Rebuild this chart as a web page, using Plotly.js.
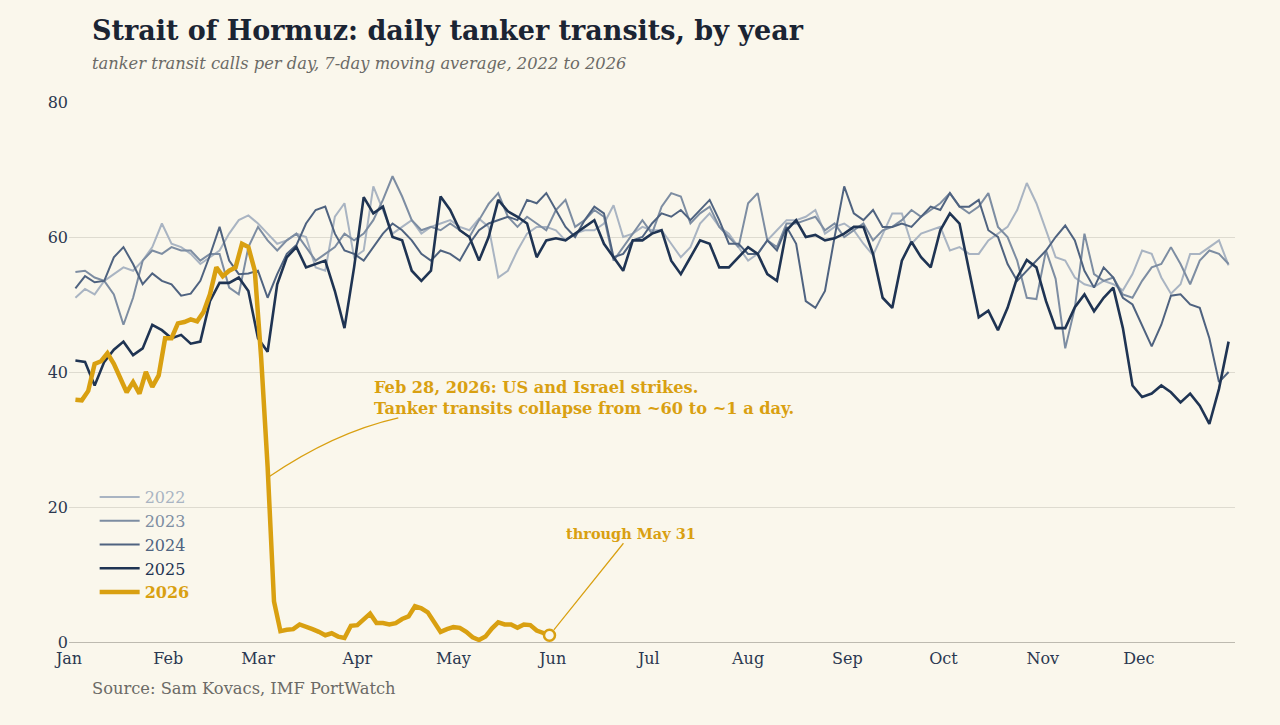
<!DOCTYPE html>
<html>
<head>
<meta charset="utf-8">
<script src="https://cdn.plot.ly/plotly-3.0.1.min.js"></script>
<style>
  html, body { margin: 0; padding: 0; background: #faf7ec; }
  #chart { width: 1280px; height: 725px; }
</style>
</head>
<body>
<div id="chart"></div>
<script>
// ---------- data ----------
const monthStarts = [0, 31, 59, 90, 120, 151, 181, 212, 243, 273, 304, 334];
const monthLabels = ['Jan', 'Feb', 'Mar', 'Apr', 'May', 'Jun', 'Jul', 'Aug', 'Sep', 'Oct', 'Nov', 'Dec'];

// full-year series, sampled every 3 days starting at day-of-year 2
const fullYearStartDay = 2;
const fullYearStepDays = 3;

const y2022 = [51.0, 52.3, 51.5, 53.5, 54.5, 55.5, 55.0, 56.5, 58.5, 62.0,
  59.0, 58.5, 57.5, 56.0, 57.0, 58.0, 60.5, 62.5, 63.2, 62.0,
  60.5, 59.0, 59.5, 60.5, 60.0, 55.5, 55.0, 63.0, 65.0, 57.0,
  58.0, 67.5, 64.0, 60.5, 61.5, 62.5, 60.5, 61.5, 62.0, 62.5,
  61.5, 61.0, 62.7, 61.5, 54.0, 55.0, 58.0, 60.5, 61.5, 61.5,
  61.0, 59.5, 60.5, 61.0, 61.0, 62.0, 64.7, 60.0, 60.5, 61.5,
  61.0, 61.0, 59.0, 57.0, 58.5, 62.0, 63.5, 61.5, 60.5, 58.5,
  56.5, 57.5, 59.5, 61.0, 62.5, 62.5, 63.0, 64.0, 60.5, 61.5,
  62.0, 61.0, 59.0, 57.3, 60.5, 63.5, 63.5, 59.0, 60.5, 61.0,
  61.5, 58.0, 58.5, 57.5, 57.5, 59.5, 60.5, 61.5, 64.0, 68.0,
  65.0, 61.0, 57.0, 56.5, 54.0, 53.0, 52.6, 53.5, 53.0, 52.1,
  54.5, 58.0, 57.5, 54.0, 51.6, 53.0, 57.5, 57.5, 58.5, 59.5,
  55.8];

const y2023 = [54.8, 55.0, 54.0, 53.5, 51.5, 47.0, 51.0, 56.5, 58.0, 57.5,
  58.5, 58.0, 58.0, 56.5, 57.5, 57.5, 52.5, 51.5, 58.5, 61.5,
  59.5, 58.0, 59.5, 60.5, 58.5, 56.5, 57.5, 58.5, 60.5, 59.5,
  60.5, 62.5, 65.5, 69.0, 66.0, 62.5, 61.0, 61.5, 61.0, 62.0,
  61.0, 60.0, 62.5, 64.9, 66.5, 63.0, 61.5, 63.0, 62.0, 61.0,
  64.0, 65.5, 61.5, 62.5, 64.0, 63.0, 56.5, 58.5, 60.5, 62.5,
  60.5, 64.5, 66.5, 66.0, 62.0, 63.5, 64.5, 61.5, 60.0, 58.5,
  65.0, 66.5, 59.5, 58.5, 62.0, 62.0, 62.5, 63.0, 61.0, 62.0,
  60.0, 61.0, 62.0, 59.5, 61.0, 61.5, 62.5, 64.0, 63.0, 64.0,
  65.0, 66.5, 64.5, 63.5, 64.5, 66.5, 61.5, 60.0, 56.5, 51.0,
  50.8, 58.0, 53.8, 43.5, 49.5, 60.5, 54.5, 53.5, 54.0, 51.5,
  51.0, 53.5, 55.5, 56.0, 58.5, 56.0, 53.0, 56.5, 58.0, 57.5,
  56.0];

const y2024 = [52.4, 54.2, 53.3, 53.5, 57.0, 58.5, 56.0, 53.0, 54.6, 53.5,
  53.0, 51.3, 51.6, 53.5, 57.3, 61.5, 56.5, 54.5, 54.6, 55.0,
  51.0, 54.5, 57.5, 58.8, 62.0, 64.0, 64.5, 60.5, 58.0, 57.5,
  56.5, 58.5, 60.5, 62.0, 61.0, 59.5, 57.5, 56.5, 58.0, 57.5,
  56.5, 59.0, 61.0, 62.0, 62.5, 63.0, 62.5, 65.5, 65.0, 66.5,
  64.0, 61.5, 60.0, 62.5, 64.5, 63.5, 57.0, 57.5, 59.5, 60.0,
  62.0, 63.5, 63.0, 64.0, 62.5, 64.0, 65.5, 62.5, 59.0, 59.0,
  57.5, 57.5, 59.5, 58.0, 61.5, 59.0, 50.5, 49.5, 52.0, 60.0,
  67.5, 63.5, 62.5, 64.0, 61.5, 61.5, 62.0, 61.5, 63.0, 64.5,
  64.0, 66.5, 64.5, 64.5, 65.5, 61.0, 60.0, 56.0, 53.5, 55.0,
  56.5, 58.0, 60.0, 61.7, 59.5, 55.0, 52.5, 55.5, 54.0, 51.0,
  50.0, 47.0, 43.8, 47.0, 51.3, 51.5, 50.0, 49.5, 45.0, 38.5,
  40.0];

const y2025 = [41.7, 41.5, 38.0, 41.5, 43.3, 44.5, 42.5, 43.5, 47.0, 46.2,
  45.0, 45.5, 44.2, 44.5, 50.5, 53.2, 53.2, 54.0, 52.0, 45.0,
  43.0, 53.0, 57.0, 58.5, 55.5, 56.0, 56.5, 52.0, 46.5, 55.5,
  65.9, 63.5, 64.5, 60.0, 59.5, 55.0, 53.5, 55.0, 66.0, 64.0,
  61.0, 60.0, 56.5, 60.0, 65.5, 63.8, 63.0, 62.0, 57.0, 59.5,
  59.8, 59.5, 60.5, 61.5, 62.5, 59.0, 57.0, 55.0, 59.5, 59.5,
  60.5, 61.0, 56.5, 54.5, 57.0, 59.5, 59.0, 55.5, 55.5, 57.0,
  58.5, 57.5, 54.5, 53.5, 61.0, 62.5, 60.0, 60.3, 59.5, 59.8,
  60.5, 61.5, 61.5, 57.5, 51.0, 49.5, 56.5, 59.3, 57.0, 55.5,
  61.0, 63.5, 62.0, 55.0, 48.1, 49.1, 46.2, 49.5, 54.0, 56.6,
  55.5, 50.5, 46.5, 46.5, 49.6, 51.5, 49.0, 51.0, 52.5, 46.5,
  38.0, 36.3, 36.8, 38.0, 37.0, 35.5, 36.8, 35.0, 32.3, 37.5,
  44.5];

// 2026, sampled every 2 days from day 2 through May 31 (day 150)
const start2026 = 2;
const step2026 = 2;
const y2026 = [35.9, 35.8, 37.2, 41.2, 41.6, 42.8, 41.2, 39.2, 37.0, 38.5,
  36.8, 40.0, 37.8, 39.5, 45.0, 45.0, 47.2, 47.4, 47.8, 47.5,
  48.9, 51.5, 55.5, 54.2, 55.0, 55.5, 59.0, 58.5, 55.0, 42.0,
  26.0, 6.0, 1.6, 1.8, 1.9, 2.6, 2.3, 1.9, 1.5, 1.0,
  1.3, 0.8, 0.6, 2.4, 2.5, 3.3, 4.2, 2.8, 2.8, 2.6,
  2.8, 3.4, 3.8, 5.3, 5.0, 4.4, 3.0, 1.5, 1.9, 2.2,
  2.1, 1.5, 0.7, 0.3, 0.8, 2.0, 2.9, 2.6, 2.6, 2.1,
  2.6, 2.5, 1.7, 1.4, 1.0];

// ---------- styling ----------
const BG = '#faf7ec';
const FONT = 'DejaVu Serif, Liberation Serif, serif';
const GOLD = '#d9a011';
const colors = {
  '2022': '#a9b4c2',
  '2023': '#7d8da2',
  '2024': '#4f6380',
  '2025': '#1f3453',
  '2026': GOLD
};
const widths = { '2022': 2, '2023': 2, '2024': 2, '2025': 2.6, '2026': 4.5 };

function daysFor(arr, start, step) {
  return arr.map((_, i) => start + i * step);
}

const fullSeries = { '2022': y2022, '2023': y2023, '2024': y2024, '2025': y2025 };

const traces = [];
['2022', '2023', '2024', '2025'].forEach(yr => {
  traces.push({
    type: 'scatter', mode: 'lines',
    x: daysFor(fullSeries[yr], fullYearStartDay, fullYearStepDays),
    y: fullSeries[yr],
    name: '<span style="color:' + colors[yr] + '">' + yr + '</span>',
    line: { color: colors[yr], width: widths[yr], shape: 'linear' },
    hoverinfo: 'skip'
  });
});
const x2026 = daysFor(y2026, start2026, step2026);
traces.push({
  type: 'scatter', mode: 'lines',
  x: x2026, y: y2026,
  name: '<b><span style="color:' + GOLD + '">2026</span></b>',
  line: { color: GOLD, width: widths['2026'] },
  hoverinfo: 'skip'
});
const lastX = x2026[x2026.length - 1];
const lastY = y2026[y2026.length - 1];
traces.push({
  type: 'scatter', mode: 'markers',
  x: [lastX], y: [lastY],
  marker: { size: 11, color: BG, line: { color: GOLD, width: 2.5 } },
  showlegend: false, hoverinfo: 'skip'
});

const layout = {
  width: 1280, height: 725,
  paper_bgcolor: BG, plot_bgcolor: BG,
  font: { family: FONT, color: '#2b3850', size: 16 },
  margin: { l: 69, r: 45, t: 102, b: 83 },
  showlegend: true,
  legend: {
    x: 0.022, y: 0.30, xanchor: 'left', yanchor: 'top',
    bgcolor: 'rgba(0,0,0,0)',
    font: { family: FONT, size: 16, color: '#1f3453' },
    itemwidth: 40
  },
  title: {
    text: '<b>Strait of Hormuz: daily tanker transits, by year</b>',
    x: 92 / 1280, xanchor: 'left', xref: 'container',
    y: 1 - 31 / 725, yanchor: 'middle', yref: 'container',
    font: { family: FONT, size: 27, color: '#1b2433' }
  },
  xaxis: {
    range: [0, 364],
    tickvals: monthStarts, ticktext: monthLabels,
    showgrid: false, zeroline: false,
    showline: true, linecolor: '#bdbab0', linewidth: 1,
    ticks: '', ticklabelstandoff: 2,
    tickfont: { family: FONT, size: 16, color: '#2b3850' },
    fixedrange: true
  },
  yaxis: {
    range: [0, 80],
    tickvals: [0, 20, 40, 60, 80],
    showgrid: true, gridcolor: '#dedbd0', gridwidth: 1,
    zeroline: false, showline: false,
    ticks: '', tickfont: { family: FONT, size: 16, color: '#2b3850' },
    fixedrange: true
  },
  shapes: [
    {
      type: 'path', xref: 'x', yref: 'y',
      path: 'M 62.2,24.4 Q 82.5,31.0 102.8,33.2',
      line: { color: GOLD, width: 1.3 }
    }
  ],
  annotations: [
    {
      xref: 'paper', yref: 'paper',
      x: (90 - 69) / 1166, y: (642 - 63) / 540,
      xanchor: 'left', yanchor: 'middle', showarrow: false,
      text: '<i>tanker transit calls per day, 7-day moving average, 2022 to 2026</i>',
      font: { family: FONT, size: 16.3, color: '#6b6a66' }
    },
    {
      xref: 'paper', yref: 'paper',
      x: (90 - 69) / 1166, y: (642 - 688) / 540,
      xanchor: 'left', yanchor: 'middle', showarrow: false,
      text: 'Source: Sam Kovacs, IMF PortWatch',
      font: { family: FONT, size: 16.3, color: '#6b6a66' }
    },
    {
      xref: 'x', yref: 'y',
      x: 94.6, y: 39.4, xanchor: 'left', yanchor: 'top', align: 'left',
      showarrow: false,
      text: '<b>Feb 28, 2026: US and Israel strikes.<br>Tanker transits collapse from ~60 to ~1 a day.</b>',
      font: { family: FONT, size: 16.2, color: GOLD }
    },
    {
      xref: 'x', yref: 'y',
      x: lastX, y: lastY,
      ax: 82, ay: -102,
      showarrow: true, arrowhead: 0, arrowwidth: 1.2, arrowcolor: GOLD,
      standoff: 7,
      text: '<b>through May 31</b>',
      font: { family: FONT, size: 14.5, color: GOLD }
    }
  ]
};

Plotly.newPlot('chart', traces, layout, { staticPlot: true, displayModeBar: false });
</script>
</body>
</html>
